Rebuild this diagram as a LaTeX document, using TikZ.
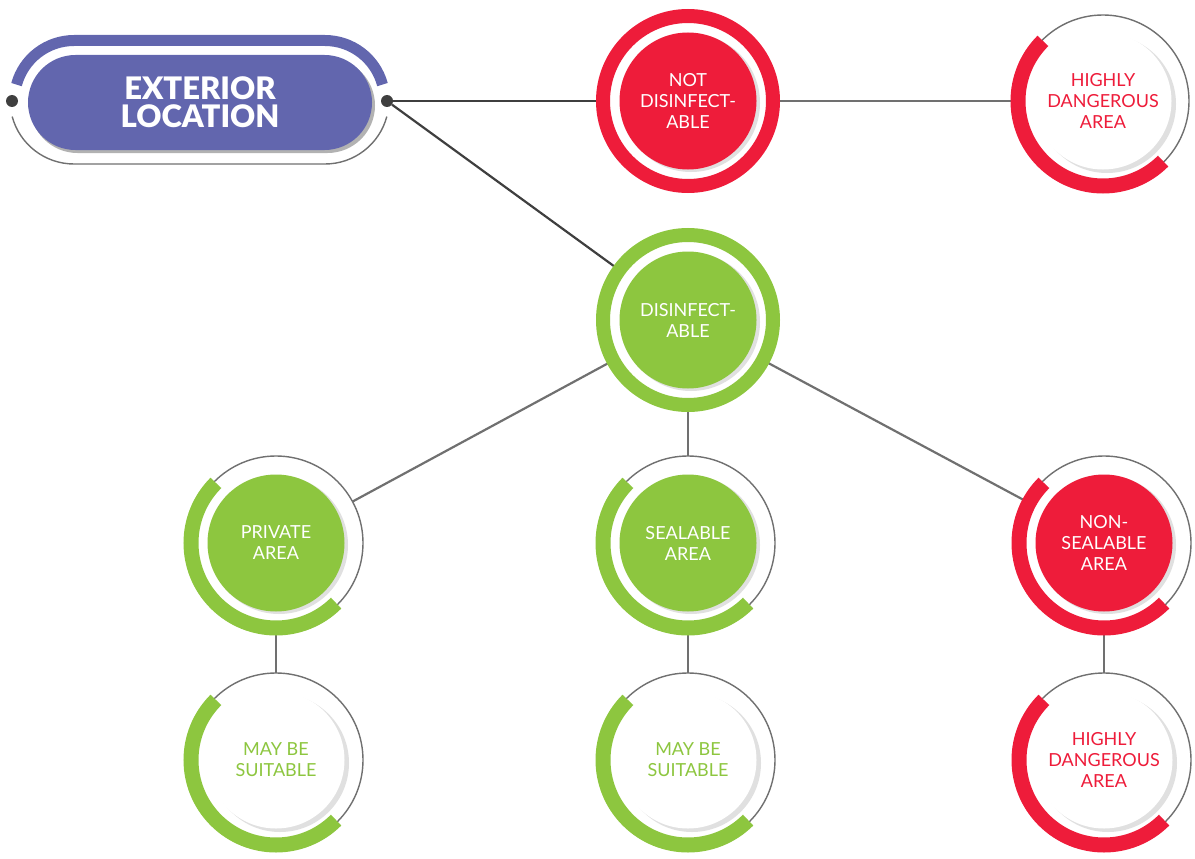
\documentclass[tikz,border=0pt]{standalone}
\usepackage{fontspec}
\setmainfont{Lato}
\newfontfamily\heavyfont{Lato Black}
\usetikzlibrary{backgrounds}

\definecolor{exlilac}{HTML}{6266AE}
\definecolor{exred}{HTML}{EE1C3A}
\definecolor{exgreen}{HTML}{8DC63F}
\definecolor{exline}{HTML}{707070}
\definecolor{exdark}{HTML}{3F3F3F}

\newcommand{\circfont}{\fontsize{18}{21}\selectfont}

\tikzset{
  fullring/.style={line width=14pt, fill=white},
  halfring/.style={line width=15pt, line cap=butt},
  outline/.style={draw=exline, line width=1.4pt, fill=white},
  shade/.style={fill=black!12},
  core/.style={circle, minimum size=137pt, inner sep=0pt, align=center, font=\circfont},
  link/.style={exline, line width=2.2pt},
  dot/.style={circle, fill=exdark, minimum size=12pt, inner sep=0pt}
}

\begin{document}
\begin{tikzpicture}[x=1pt,y=-1pt]
    \useasboundingbox (0,0) rectangle (1195,859);

    % Exterior location
    \draw[exlilac, line width=11pt] (74,100) ++(195:59.5) arc[start angle=195, end angle=270, radius=59.5]
        -- (325,40.5) arc[start angle=270, end angle=345, radius=59.5];
    \draw[exline, line width=1.4pt] (74,100) ++(165:64) arc[start angle=165, end angle=90, radius=64]
        -- (325,164) arc[start angle=90, end angle=15, radius=64];
    \fill[black!30, rounded corners=47.5pt] (30,58) rectangle (375,153);
    \node[rectangle, rounded corners=47.5pt, minimum width=344pt, minimum height=95pt, fill=exlilac,
          text=white, align=center, font=\fontsize{31}{28}\heavyfont] (ext) at (200,102.5) {EXTERIOR\\LOCATION};
    \node[dot] (extL) at (12,101) {};
    \node[dot] (extR) at (387,101) {};

    % Not disinfectable
    \draw[exred, fullring] (688,101) circle[radius=85];
    \fill[shade] (691,103) circle[radius=69];
    \node[core, fill=exred, text=white] (notdis) at (688,101) {NOT\\DISINFECT-\\ABLE};

    % Highly dangerous area (top)
    \draw[outline] (1103,101) circle[radius=86];
    \draw[exred, halfring] (1103,101) ++(225:85) arc[start angle=225, end angle=45, radius=85];
    \fill[shade] (1107,104) circle[radius=69];
    \node[core, fill=white, text=exred] (highA) at (1103,101) {HIGHLY\\DANGEROUS\\AREA};

    % Disinfectable
    \draw[exgreen, fullring] (688,320) circle[radius=85];
    \fill[shade] (691,322) circle[radius=69];
    \node[core, fill=exgreen, text=white] (dis) at (688,320) {DISINFECT-\\ABLE};

    % Private area
    \draw[outline] (276,543) circle[radius=87];
    \draw[exgreen, halfring] (276,543) ++(225:85) arc[start angle=225, end angle=45, radius=85];
    \fill[shade] (279,545) circle[radius=69];
    \node[core, fill=exgreen, text=white] (priv) at (276,543) {PRIVATE\\AREA};

    % Sealable area
    \draw[outline] (688,543) circle[radius=87];
    \draw[exgreen, halfring] (688,543) ++(225:85) arc[start angle=225, end angle=45, radius=85];
    \fill[shade] (691,545) circle[radius=69];
    \node[core, fill=exgreen, text=white] (seal) at (688,543) {SEALABLE\\AREA};

    % Non-sealable area
    \draw[outline] (1104,543) circle[radius=87];
    \draw[exred, halfring] (1104,543) ++(225:85) arc[start angle=225, end angle=45, radius=85];
    \fill[shade] (1107,545) circle[radius=69];
    \node[core, fill=exred, text=white] (nonseal) at (1104,543) {NON-\\SEALABLE\\AREA};

    % May be suitable (left)
    \draw[outline] (276,760) circle[radius=87];
    \draw[exgreen, halfring] (276,760) ++(225:85) arc[start angle=225, end angle=45, radius=85];
    \fill[shade] (280,763) circle[radius=69];
    \node[core, fill=white, text=exgreen] (suitA) at (276,760) {MAY BE\\SUITABLE};

    % May be suitable (middle)
    \draw[outline] (688,760) circle[radius=87];
    \draw[exgreen, halfring] (688,760) ++(225:85) arc[start angle=225, end angle=45, radius=85];
    \fill[shade] (692,763) circle[radius=69];
    \node[core, fill=white, text=exgreen] (suitB) at (688,760) {MAY BE\\SUITABLE};

    % Highly dangerous area (bottom)
    \draw[outline] (1104,760) circle[radius=87];
    \draw[exred, halfring] (1104,760) ++(225:85) arc[start angle=225, end angle=45, radius=85];
    \fill[shade] (1108,763) circle[radius=69];
    \node[core, fill=white, text=exred] (highB) at (1104,760) {HIGHLY\\DANGEROUS\\AREA};

    % Connectors
    \begin{scope}[on background layer]
        \draw[link, exdark] (extR) -- (notdis);
        \draw[link, exdark] (extR) -- (dis);
        \draw[link] (notdis) -- (highA);
        \draw[link] (dis) -- (priv);
        \draw[link] (dis) -- (seal);
        \draw[link] (dis) -- (nonseal);
        \draw[link] (priv) -- (suitA);
        \draw[link] (seal) -- (suitB);
        \draw[link] (nonseal) -- (highB);
    \end{scope}
\end{tikzpicture}
\end{document}
